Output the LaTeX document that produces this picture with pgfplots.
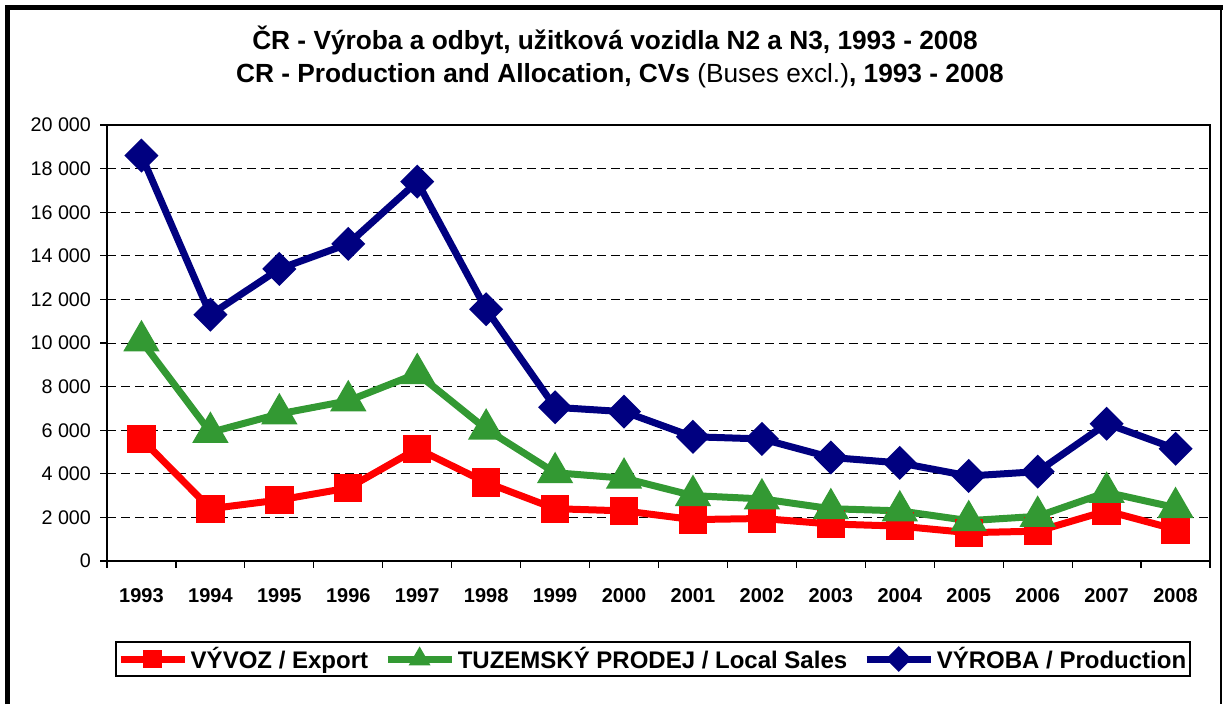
\documentclass[border=0pt]{standalone}
\usepackage{fontspec}
\setmainfont{Liberation Sans}
\usepackage{pgfplots}
\pgfplotsset{compat=1.18}
\definecolor{cred}{RGB}{255,0,0}
\definecolor{cgreen}{RGB}{51,153,51}
\definecolor{cblue}{RGB}{0,0,128}
\begin{document}
\begin{tikzpicture}
\useasboundingbox (0,0) rectangle (919.5pt,-528pt);
\draw[line width=3.75pt] (5.6pt,-528pt) -- (5.6pt,-5.6pt) -- (917pt,-5.6pt);
\draw[line width=1.1pt] (915.75pt,-5.6pt) -- (915.75pt,-528pt);
\node[anchor=base, inner sep=0pt, font=\bfseries\fontsize{19.7pt}{22pt}\selectfont] at (461.25pt,-37pt) {ČR - Výroba a odbyt, užitková vozidla N2 a N3, 1993 - 2008};
\node[anchor=base, inner sep=0pt, font=\fontsize{19.7pt}{22pt}\selectfont] at (465pt,-61.8pt) {\textbf{CR - Production and Allocation, CVs} (Buses excl.)\textbf{, 1993 - 2008}};
\begin{axis}[
  at={(80.25pt,-420.75pt)}, anchor=south west,
  scale only axis, width=827.25pt, height=327pt,
  xmin=-0.5, xmax=15.5, ymin=0, ymax=20000,
  scaled y ticks=false,
  xtick={-0.5,0.5,...,15.5},
  xticklabels={1993,1994,1995,1996,1997,1998,1999,2000,2001,2002,2003,2004,2005,2006,2007,2008,{}},
  xticklabel style={xshift=25.85pt, font=\bfseries\fontsize{15pt}{18pt}\selectfont, yshift=-12pt},
  ytick={0,2000,...,20000},
  yticklabels={0,2 000,4 000,6 000,8 000,10 000,12 000,14 000,16 000,18 000,20 000},
  yticklabel style={font=\fontsize{14.8pt}{17pt}\selectfont, xshift=-3.5pt},
  tick align=outside, tick pos=left, major tick length=5pt,
  tick style={black, line width=0.9pt},
  ymajorgrids, grid style={black, line width=0.75pt, dash pattern=on 7pt off 3.5pt},
  axis line style={line width=1.8pt},
  legend style={at={(axis description cs:0.495,-0.2248)}, anchor=center, legend columns=3,
    draw=black, line width=1.5pt, inner xsep=1pt, inner ysep=2pt,
    font=\bfseries\fontsize{18pt}{20pt}\selectfont,
    /tikz/every even column/.append style={column sep=10pt}},
  legend image code/.code={\draw[mark repeat=2,mark phase=2,#1, mark size=4.2pt] plot coordinates {(0pt,0pt) (24pt,0pt) (48pt,0pt)};},
]
\addplot[cred, line width=5.25pt, mark=square*, mark size=8pt, mark options={solid}] coordinates {
(0,5600) (1,2400) (2,2800) (3,3350) (4,5150) (5,3600) (6,2400) (7,2300) (8,1900) (9,1950) (10,1700) (11,1600) (12,1300) (13,1370) (14,2300) (15,1450)};
\addlegendentry{VÝVOZ / Export}
\addplot[cgreen, line width=5.25pt, mark=triangle*, mark size=10.5pt, mark options={solid}] coordinates {
(0,10100) (1,5900) (2,6750) (3,7350) (4,8600) (5,6050) (6,4050) (7,3800) (8,3000) (9,2850) (10,2400) (11,2300) (12,1850) (13,2050) (14,3150) (15,2450)};
\addlegendentry{TUZEMSKÝ PRODEJ / Local Sales}
\addplot[cblue, line width=5.25pt, mark=square*, mark size=6.4pt, mark options={solid, rotate=45}] coordinates {
(0,18600) (1,11300) (2,13400) (3,14550) (4,17400) (5,11550) (6,7050) (7,6850) (8,5700) (9,5600) (10,4750) (11,4500) (12,3900) (13,4100) (14,6300) (15,5150)};
\addlegendentry{VÝROBA / Production}
\end{axis}
\end{tikzpicture}
\end{document}
